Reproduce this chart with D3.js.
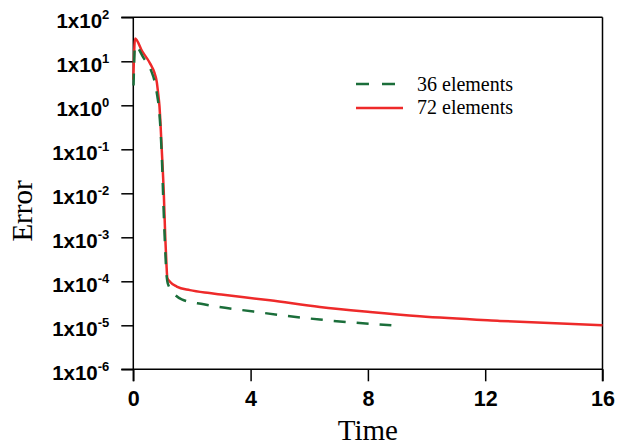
<!DOCTYPE html>
<html>
<head>
<meta charset="utf-8">
<script src="https://cdn.jsdelivr.net/npm/d3@7/dist/d3.min.js"></script>
<style>
  html, body { margin: 0; padding: 0; background: #fff; }
  svg { display: block; }
</style>
</head>
<body>
<svg id="chart" width="617" height="446"></svg>
<script>
// ---- data ----
const xTicks = [0, 4, 8, 12, 16];
const yTickExponents = [2, 1, 0, -1, -2, -3, -4, -5, -6];
const seriesNames = ["36 elements", "72 elements"];

const time36 =  [0, 0.06, 0.35, 0.6, 0.74, 0.82, 0.88, 0.94, 0.98, 1.03, 1.08, 1.13, 1.16, 1.22, 1.34, 1.65, 2.4, 4.1, 6.36, 8.8];
const error36 = [1.6, 23, 12, 6.3, 3.2, 1.6, 0.8, 0.2, 0.05, 0.005, 7e-4, 1.5e-4, 1.0e-4, 7.5e-5, 5.7e-5, 3.9e-5, 3.0e-5, 2.05e-5, 1.35e-5, 1.0e-5];

const time72 =  [0, 0.06, 0.3, 0.57, 0.72, 0.8, 0.85, 0.89, 0.97, 1.04, 1.09, 1.13, 1.16, 1.25, 1.48, 1.93, 2.6, 3.0, 4.66, 6.36, 8.07, 9.77, 12.5, 16];
const error72 = [3.8, 33, 17, 9.0, 5.5, 3.4, 1.8, 1.0, 0.1, 0.01, 0.001, 2.5e-4, 1.2e-4, 9.8e-5, 7.6e-5, 6.3e-5, 5.4e-5, 5.0e-5, 3.7e-5, 2.6e-5, 2.0e-5, 1.6e-5, 1.26e-5, 1.0e-5];

// ---- layout ----
const svg = d3.select("#chart");
const pLeft = 133.3, pRight = 602.5, pTop = 17.3, pBottom = 369.3;
const x = d3.scaleLinear().domain([0, 16]).range([pLeft, pRight]);
const y = d3.scaleLog().domain([1e-6, 1e2]).range([pBottom, pTop]);

const green = "#1b6e3a", red = "#ee2a2a";
const sansBold = "'Liberation Sans', Arial, sans-serif";
const serif = "'Liberation Serif', 'Times New Roman', serif";

// y axis
const yAxis = d3.axisLeft(y)
  .tickValues(yTickExponents.map(e => Math.pow(10, e)))
  .tickSize(12).tickSizeOuter(0).tickPadding(10)
  .tickFormat("");
const gy = svg.append("g").attr("transform", `translate(${pLeft},0)`).call(yAxis);
gy.select(".domain").remove();
gy.selectAll(".tick line").attr("stroke", "#000").attr("stroke-width", 1.5);
gy.selectAll(".tick text").each(function(d) {
  const t = d3.select(this);
  t.text(null)
   .attr("font-family", sansBold).attr("font-weight", "bold")
   .attr("font-size", 20.5).attr("fill", "#000").attr("dy", "0.52em")
   .attr("x", -24);
  t.append("tspan").text("1x10");
  t.append("tspan").attr("font-size", 13).attr("dy", -9)
   .text(String(Math.round(Math.log10(d))));
});

// x axis
const xAxis = d3.axisBottom(x).tickValues(xTicks).tickSize(12).tickSizeOuter(0)
  .tickPadding(9).tickFormat(d3.format("d"));
const gx = svg.append("g").attr("transform", `translate(0,${pBottom})`).call(xAxis);
gx.select(".domain").remove();
gx.selectAll(".tick line").attr("stroke", "#000").attr("stroke-width", 1.5);
gx.selectAll(".tick text").attr("font-family", sansBold).attr("font-weight", "bold")
  .attr("font-size", 21.5).attr("fill", "#000");

// frame
const frame = svg.append("g").attr("stroke", "#000").attr("stroke-width", 1.5).attr("fill", "none");
frame.append("line").attr("x1", pLeft).attr("x2", pLeft).attr("y1", pTop).attr("y2", pBottom + 12);
frame.append("line").attr("x1", pRight).attr("x2", pRight).attr("y1", pTop).attr("y2", pBottom + 12);
frame.append("line").attr("x1", pLeft - 12).attr("x2", pRight).attr("y1", pTop).attr("y2", pTop);
frame.append("line").attr("x1", pLeft - 12).attr("x2", pRight).attr("y1", pBottom).attr("y2", pBottom);

// lines
const line = d3.line().x(d => x(d[0])).y(d => y(d[1])).curve(d3.curveMonotoneX);
const d72 = time72.map((t, i) => [t, error72[i]]);
const d36 = time36.map((t, i) => [t, error36[i]]);
svg.append("path").datum(d72).attr("d", line).attr("fill", "none")
  .attr("stroke", red).attr("stroke-width", 2.5);
const p36 = svg.append("path").datum(d36).attr("d", line).attr("fill", "none")
  .attr("stroke", green).attr("stroke-width", 2.5).attr("stroke-dasharray", "12,11");
const L = p36.node().getTotalLength();
p36.attr("stroke-dashoffset", ((12 - (L % 23)) % 23 + 23) % 23);

// legend
const legend = svg.append("g");
legend.append("line").attr("x1", 356).attr("x2", 395).attr("y1", 84).attr("y2", 84)
  .attr("stroke", green).attr("stroke-width", 2.5).attr("stroke-dasharray", "13,13");
legend.append("line").attr("x1", 356).attr("x2", 403).attr("y1", 108).attr("y2", 108)
  .attr("stroke", red).attr("stroke-width", 2.5);
legend.append("text").attr("x", 417).attr("y", 90.5).text(seriesNames[0])
  .attr("font-family", serif).attr("font-size", 20).attr("fill", "#000");
legend.append("text").attr("x", 417).attr("y", 114).text(seriesNames[1])
  .attr("font-family", serif).attr("font-size", 20).attr("fill", "#000");

// axis titles
svg.append("text").attr("x", (pLeft + pRight) / 2).attr("y", 440).attr("text-anchor", "middle")
  .attr("font-family", serif).attr("font-size", 29).attr("fill", "#000").text("Time");
svg.append("text").attr("transform", "translate(32,211) rotate(-90)").attr("text-anchor", "middle")
  .attr("font-family", serif).attr("font-size", 29).attr("fill", "#000").text("Error");
</script>
</body>
</html>
